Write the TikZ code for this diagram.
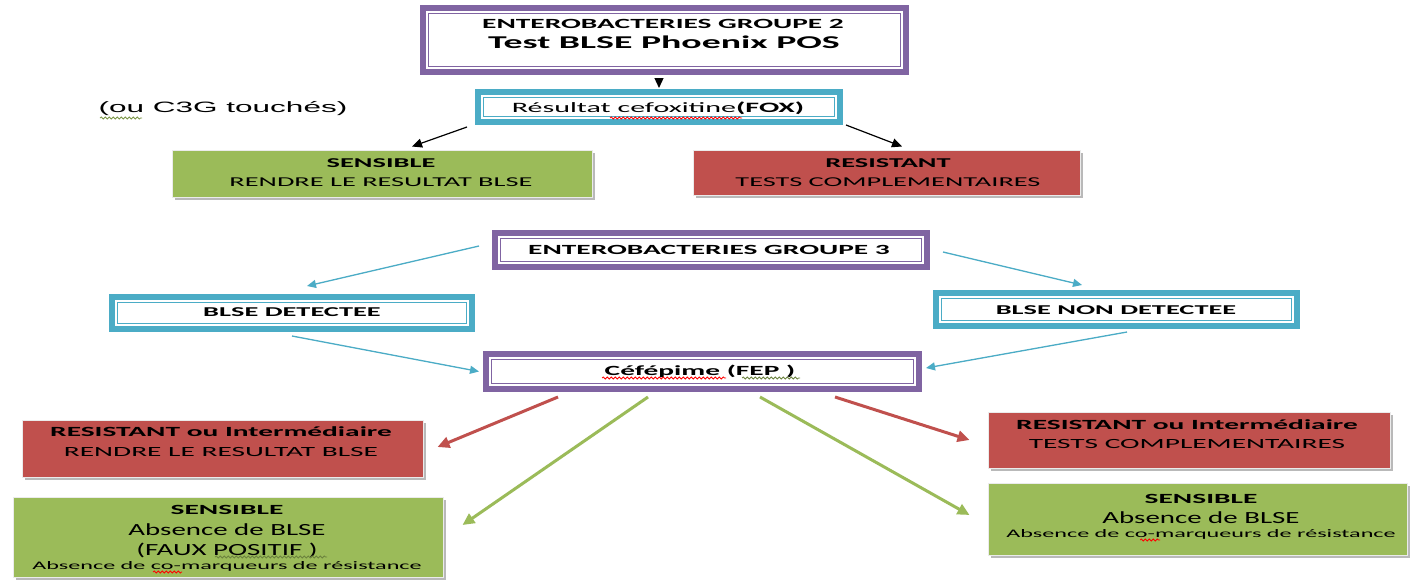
\documentclass[tikz,border=0pt]{standalone}
\usepackage{fontspec}
\usetikzlibrary{arrows.meta,shadows,decorations.pathmorphing}
\newfontfamily\wfont{Carlito}[FakeStretch=2.1]
\newfontfamily\mfont{Carlito}[FakeStretch=1.7]
\newfontfamily\afont{Liberation Sans}[FakeStretch=2.1]
\definecolor{cpurple}{HTML}{8064A2}
\definecolor{cteal}{HTML}{4BACC6}
\definecolor{cgreen}{HTML}{9BBB59}
\definecolor{cred}{HTML}{C0504D}
\newcommand{\fs}[1]{\fontsize{#1}{#1}\selectfont}
\tikzset{
  frameinner/.style={path picture={\draw[#1,line width=1.4pt]
      ([shift={(5.5pt,-5.5pt)}]path picture bounding box.north west) rectangle
      ([shift={(-5.5pt,5.5pt)}]path picture bounding box.south east);}},
  pframe/.style={draw=cpurple, line width=6pt, fill=white, inner sep=0pt, frameinner=cpurple},
  tframe/.style={draw=cteal, line width=6pt, fill=white, inner sep=0pt, frameinner=cteal},
  fbox/.style={fill=#1, draw=black!8, line width=1pt, inner sep=0pt,
      drop shadow={shadow xshift=3pt, shadow yshift=-3pt, fill=black!30, opacity=0.9}},
  txt/.style={inner sep=0pt, anchor=base, text=black},
  blk/.style={-{Triangle[length=10pt,width=9pt]}, line width=1.2pt, draw=black},
  tarr/.style={-{Triangle[length=9pt,width=8pt]}, line width=1.3pt, draw=cteal, fill=cteal},
  rarr/.style={-{Triangle[length=12pt,width=11pt]}, line width=3pt, draw=cred, fill=cred},
  garr/.style={-{Triangle[length=12pt,width=11pt]}, line width=3pt, draw=cgreen, fill=cgreen},
  squig/.style={draw=#1, line width=0.8pt, decorate, decoration={snake, amplitude=1pt, segment length=4pt}},
}
\begin{document}
\begin{tikzpicture}[x=1pt,y=-1pt]
\useasboundingbox (0,0) rectangle (1413,581);
\fill[white] (0,0) rectangle (1413,581);

% ---- boxes
\node[pframe, minimum width=483pt, minimum height=64pt] (top) at (664.5,40) {};
\node[tframe, minimum width=362pt, minimum height=30pt] (fox) at (659,107) {};
\node[fbox=cgreen, minimum width=420pt, minimum height=47pt] (gs) at (382,173.5) {};
\node[fbox=cred, minimum width=387pt, minimum height=45pt] (rs) at (886.5,172.5) {};
\node[pframe, minimum width=432pt, minimum height=34pt] (g3) at (711,250) {};
\node[tframe, minimum width=360pt, minimum height=32pt] (bd) at (292,313) {};
\node[tframe, minimum width=361pt, minimum height=33pt] (bnd) at (1116.5,309.5) {};
\node[pframe, minimum width=433pt, minimum height=35pt] (fep) at (702.5,371.5) {};
\node[fbox=cred, minimum width=401pt, minimum height=57pt] (rl) at (222.5,448.5) {};
\node[fbox=cgreen, minimum width=430pt, minimum height=80pt] (gl) at (228,537) {};
\node[fbox=cred, minimum width=402pt, minimum height=56pt] (rr) at (1189,440) {};
\node[fbox=cgreen, minimum width=419pt, minimum height=72pt] (gr) at (1197.5,519) {};

% ---- texts
\node[txt] (top1) at (663,28.5) {\wfont\bfseries\fs{14}ENTEROBACTERIES GROUPE 2};
\node[txt] (top2) at (664,48.8) {\wfont\bfseries\fs{18}Test BLSE Phoenix POS};
\node[txt] (foxt) at (658,112.5) {\wfont\fs{14.3}Résultat cefoxitine\textbf{(FOX)}};
\node[txt] (note) at (223,112.4) {\afont\fs{15}(ou C3G touchés)};
\node[txt] (gs1) at (381,167.3) {\wfont\bfseries\fs{13.5}SENSIBLE};
\node[txt] (gs2) at (381,186.3) {\wfont\fs{13.5}RENDRE LE RESULTAT BLSE};
\node[txt] (rs1) at (888,167.3) {\wfont\bfseries\fs{13.5}RESISTANT};
\node[txt] (rs2) at (888,186.3) {\wfont\fs{13.5}TESTS COMPLEMENTAIRES};
\node[txt] (g3t) at (709,254.5) {\wfont\bfseries\fs{14}ENTEROBACTERIES GROUPE 3};
\node[txt] (bdt) at (292,316.3) {\wfont\bfseries\fs{13.5}BLSE DETECTEE};
\node[txt] (bndt) at (1116,314.3) {\wfont\bfseries\fs{13.5}BLSE NON DETECTEE};
\node[txt] (fept) at (700,375.5) {\wfont\bfseries\fs{14}Céfépime (FEP )};
\node[txt] (rl1) at (221,436.5) {\wfont\bfseries\fs{14}RESISTANT ou Intermédiaire};
\node[txt] (rl2) at (221,456.5) {\wfont\fs{14}RENDRE LE RESULTAT BLSE};
\node[txt] (gl1) at (227,514.5) {\wfont\bfseries\fs{14}SENSIBLE};
\node[txt] (gl2) at (227,535.5) {\mfont\fs{17}Absence de BLSE};
\node[txt] (gl3) at (227,555.5) {\mfont\fs{17}(FAUX POSITIF )};
\node[txt] (gl4) at (227,569.7) {\wfont\fs{11.5}Absence de co-marqueurs de résistance};
\node[txt] (rr1) at (1187,429.5) {\wfont\bfseries\fs{14}RESISTANT ou Intermédiaire};
\node[txt] (rr2) at (1187,448.5) {\wfont\fs{14}TESTS COMPLEMENTAIRES};
\node[txt] (gr1) at (1201,503.5) {\wfont\bfseries\fs{14}SENSIBLE};
\node[txt] (gr2) at (1201,523.5) {\mfont\fs{17}Absence de BLSE};
\node[txt] (gr3) at (1201,537.7) {\wfont\fs{11.5}Absence de co-marqueurs de résistance};

% ---- spell-check squiggles
\draw[squig=cgreen!80!black] (100,118) -- (142,118);
\draw[squig=red] (610,118) -- (742,118);
\draw[squig=red] (602,378) -- (726,378);
\draw[squig=cgreen!70!black] (742,378) -- (800,378);
\draw[squig=cgreen!70!black] (215,557) -- (327,557);
\draw[squig=red] (153,572) -- (182,572);
\draw[squig=red] (1140,540) -- (1160,540);

% ---- connectors
\coordinate (a1) at (fox.north |- top.south);
\draw[blk] ([yshift=-3pt]a1) -- ([yshift=1pt]fox.north);
\draw[blk] ([xshift=-8pt,yshift=-2pt]fox.south west) -- ([xshift=30pt,yshift=3pt]gs.north);
\draw[blk] ([xshift=3pt]fox.south east) -- ([xshift=15.5pt,yshift=3pt]rs.north);
\draw[tarr] ([xshift=-13pt,yshift=4pt]g3.west) -- ([xshift=15pt,yshift=8pt]bd.north);
\draw[tarr] ([yshift=-4pt]bd.south) -- ([xshift=-4pt]fep.west);
\draw[tarr] ([xshift=13pt,yshift=-2pt]g3.east) -- ([xshift=-34.5pt,yshift=5pt]bnd.north);
\draw[tarr] ([xshift=10.5pt,yshift=-3pt]bnd.south) -- ([xshift=4pt,yshift=3.5pt]fep.east);
\draw[rarr] ([xshift=-144.5pt,yshift=-5pt]fep.south) -- ([xshift=14pt,yshift=1.5pt]rl.east);
\draw[garr] ([xshift=-54.5pt,yshift=-5pt]fep.south) -- ([xshift=19pt,yshift=12pt]gl.east);
\draw[rarr] ([xshift=132.5pt,yshift=-5pt]fep.south) -- ([xshift=-18pt]rr.west);
\draw[garr] ([xshift=57.5pt,yshift=-5pt]fep.south) -- ([xshift=-18pt,yshift=4pt]gr.west);
\end{tikzpicture}
\end{document}
